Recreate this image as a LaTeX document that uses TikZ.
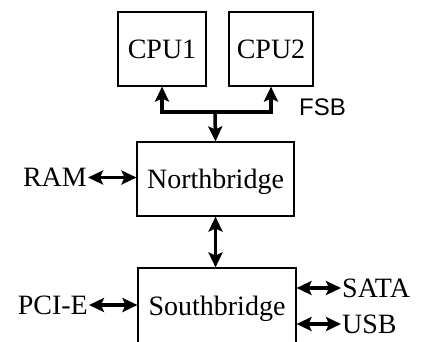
\documentclass[tikz,border=0pt]{standalone}
\usepackage{fontspec}
\setmainfont{Liberation Serif}
\newfontfamily\labelsans{Liberation Sans}
\usetikzlibrary{arrows.meta}

\tikzset{
  unitbox/.style={draw, line width=1.1pt, inner sep=0pt,
    text height=18.5pt, text depth=0pt,
    font=\fontsize{28}{30}\selectfont},
  busname/.style={inner sep=1pt, text height=18.5pt, text depth=0pt,
    font=\fontsize{28}{30}\selectfont},
  tip/.tip={Stealth[length=15pt,width=14pt,inset=3pt]},
  link/.style={line width=3.5pt, -tip},
  duplex/.style={line width=3.5pt, tip-tip}
}

\begin{document}
\begin{tikzpicture}[x=1pt,y=-1pt]
  \useasboundingbox (0,0) rectangle (422,341);
  \clip (0,0) rectangle (422,341);

  % chips
  \node[unitbox, minimum width=88pt, minimum height=74pt] (cpu1) at (162,49) {CPU1};
  \node[unitbox, minimum width=84pt, minimum height=74pt] (cpu2) at (271,49) {CPU2};
  \node[unitbox, minimum width=157pt, minimum height=74pt] (nb) at (215.5,179) {Northbridge};
  \node[unitbox, minimum width=158pt, minimum height=76pt] (sb) at (217,306) {Southbridge};

  % peripheral names
  \node[busname, anchor=east] (ram) at (88,177.5) {RAM};
  \node[busname, anchor=east] (pcie) at (89,305) {PCI-E};
  \node[busname, anchor=west] (sata) at (341,288) {SATA};
  \node[busname, anchor=west] (usb) at (341,324) {USB};
  \node[inner sep=0pt, anchor=west, font=\labelsans\fontsize{24}{26}\selectfont] (fsb) at (299,107) {FSB};

  % front side bus
  \coordinate (bus) at (215,112);
  \draw[link] (bus) -| (cpu1.south);
  \draw[link] (bus) -| (cpu2.south);
  \draw[link] (bus) -- (nb.north);

  % point-to-point links
  \draw[duplex] (nb.south) -- (nb.south |- sb.north);
  \draw[duplex] (ram.east) -- (ram.east -| nb.west);
  \draw[duplex] (pcie.east) -- (pcie.east -| sb.west);
  \draw[duplex] (sata.west -| sb.east) -- (sata.west);
  \draw[duplex] (usb.west -| sb.east) -- (usb.west);
\end{tikzpicture}
\end{document}
